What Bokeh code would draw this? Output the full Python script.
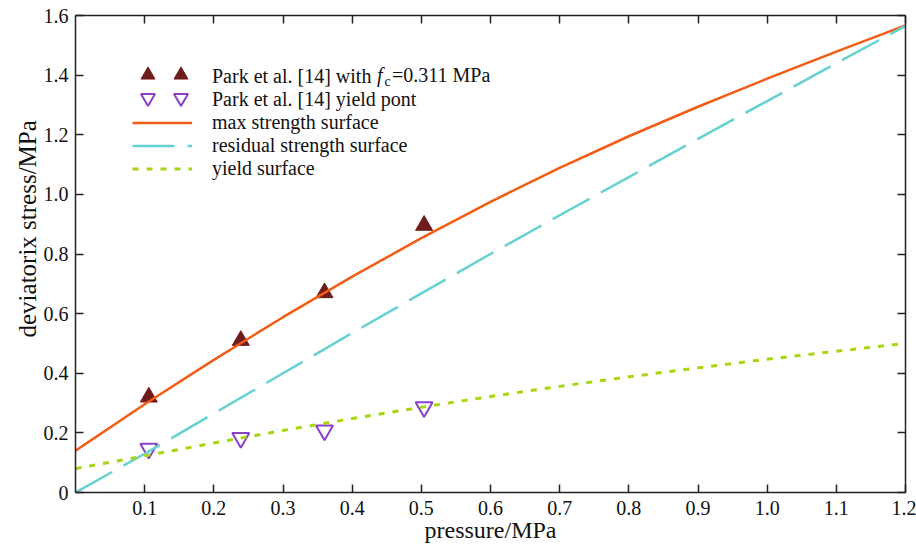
from bokeh.plotting import figure
from bokeh.models import (Range1d, LinearAxis, FixedTicker, Legend, LegendItem, Label, Title,
                          CustomJSTickFormatter)
from bokeh.embed import file_html
from bokeh.resources import INLINE

# ---- data ----
pressure_grid = [0.0, 0.1, 0.2, 0.3, 0.4, 0.5, 0.6, 0.7, 0.8, 0.9, 1.0, 1.1, 1.2]
max_strength = [0.14, 0.296, 0.445, 0.588, 0.724, 0.853, 0.975, 1.089, 1.195, 1.294, 1.388, 1.479, 1.567]
residual_strength = [0.0, 0.13, 0.265, 0.40, 0.535, 0.668, 0.80, 0.93, 1.058, 1.186, 1.313, 1.44, 1.565]
yield_surface = [0.08, 0.123, 0.166, 0.208, 0.248, 0.286, 0.322, 0.356, 0.388, 0.418, 0.447, 0.474, 0.50]

test_pressure = [0.106, 0.239, 0.360, 0.504]
test_max_stress = [0.32, 0.51, 0.67, 0.896]
test_yield_stress = [0.147, 0.183, 0.208, 0.286]

x_tick_values = [0.1, 0.2, 0.3, 0.4, 0.5, 0.6, 0.7, 0.8, 0.9, 1.0, 1.1, 1.2]
y_tick_values = [0, 0.2, 0.4, 0.6, 0.8, 1.0, 1.2, 1.4, 1.6]

legend_labels = ["Park et al. [14] with", "Park et al. [14] yield pont",
                 "max strength surface", "residual strength surface", "yield surface"]
x_title = "pressure/MPa"
y_title = "deviatorix stress/MPa"

FONT = "Liberation Serif"
AXC = "#222222"
TXT = "#111111"
C_MAX = "#f25c14"
C_RES = "#66d1d1"
C_YLD = "#a6d60f"
C_TRI = "#6e1c1c"
C_INV = "#8a3fc9"

p = figure(width=916, height=545, output_backend="svg", toolbar_location=None,
           x_range=Range1d(0, 1.2), y_range=Range1d(0, 1.6),
           min_border_left=75, min_border_right=11, min_border_top=15, min_border_bottom=53,
           background_fill_color="white", border_fill_color="white")
p.grid.visible = False
p.outline_line_color = None

bx = p.below[0]
ly = p.left[0]
top_axis = LinearAxis()
right_axis = LinearAxis()
p.add_layout(top_axis, "above")
p.add_layout(right_axis, "right")

for ax in [bx, ly, top_axis, right_axis]:
    ax.major_tick_in = 8
    ax.major_tick_out = 0
    ax.minor_tick_line_color = None
    ax.axis_line_width = 1.5
    ax.axis_line_color = AXC
    ax.major_tick_line_width = 1.5
    ax.major_tick_line_color = AXC
    ax.major_label_text_font = FONT
    ax.major_label_text_color = TXT

for ax in [bx, top_axis]:
    ax.ticker = FixedTicker(ticks=x_tick_values)
for ax in [ly, right_axis]:
    ax.ticker = FixedTicker(ticks=y_tick_values)

bx.formatter = CustomJSTickFormatter(code="return tick.toFixed(1);")
bx.major_label_text_font_size = "20px"
bx.major_label_standoff = 8
bx.axis_label = x_title
bx.axis_label_text_font = FONT
bx.axis_label_text_font_style = "normal"
bx.axis_label_text_font_size = "24px"
bx.axis_label_text_color = TXT
bx.axis_label_text_line_height = 0.5
bx.axis_label_standoff = -1

ly.formatter = CustomJSTickFormatter(code="return Math.abs(tick) < 1e-9 ? '0' : tick.toFixed(1);")
ly.major_label_text_font_size = "20px"
ly.major_label_standoff = 7

for ax in [top_axis, right_axis]:
    ax.formatter = CustomJSTickFormatter(code="return '';")
    ax.major_label_text_font_size = "0px"
    ax.major_label_standoff = 0

p.add_layout(Title(text=y_title, align="left", offset=155, standoff=0,
                   text_font=FONT, text_font_style="normal", text_font_size="25px",
                   text_color=TXT), "left")

# markers first, lines drawn over them
r_tri = p.scatter(test_pressure, test_max_stress, marker="triangle", size=17,
                  fill_color=C_TRI, line_color=C_TRI)
r_inv = p.scatter(test_pressure, test_yield_stress, marker="inverted_triangle", size=17,
                  fill_color=None, line_color=C_INV, line_width=2)
r_max = p.line(pressure_grid, max_strength, line_color=C_MAX, line_width=2.5)
r_res = p.line(pressure_grid, residual_strength, line_color=C_RES, line_width=2.5,
               line_dash="42 13")
r_yld = p.line(pressure_grid, yield_surface, line_color=C_YLD, line_width=3,
               line_dash="6 8")
# invisible stand-in so the text legend leaves the marker rows blank
r_blank = p.line([], [], line_alpha=0)

legend = Legend(items=[LegendItem(label=legend_labels[0], renderers=[r_blank]),
                       LegendItem(label=legend_labels[1], renderers=[r_blank]),
                       LegendItem(label=legend_labels[2], renderers=[r_max]),
                       LegendItem(label=legend_labels[3], renderers=[r_res]),
                       LegendItem(label=legend_labels[4], renderers=[r_yld])],
                location=(57, 312), padding=0, margin=0, spacing=0,
                glyph_width=60, glyph_height=23, label_height=23, label_standoff=20,
                label_text_font=FONT, label_text_font_size="20px",
                label_text_color=TXT,
                border_line_color=None, background_fill_alpha=0)
p.add_layout(legend)

# two larger markers per marker row of the legend
for rend, row_y in [(r_tri, 400), (r_inv, 377)]:
    for col_x in [55, 88]:
        p.add_layout(Legend(items=[LegendItem(label=" ", renderers=[rend])],
                            location=(col_x, row_y), padding=0, margin=0, spacing=0,
                            glyph_width=35, glyph_height=35, label_height=35,
                            label_width=0, label_standoff=0,
                            label_text_font_size="1px",
                            border_line_color=None, background_fill_alpha=0))

# rich part of first legend label
p.add_layout(Label(x=301.5, y=418, x_units="screen", y_units="screen", text="f",
                   text_font=FONT, text_font_style="italic", text_font_size="20px",
                   text_baseline="middle", text_color=TXT))
p.add_layout(Label(x=309, y=411, x_units="screen", y_units="screen", text="c",
                   text_font=FONT, text_font_size="14px",
                   text_baseline="middle", text_color=TXT))
p.add_layout(Label(x=316.5, y=418, x_units="screen", y_units="screen", text="=0.311 MPa",
                   text_font=FONT, text_font_size="20px",
                   text_baseline="middle", text_color=TXT))

open("out.html", "w").write(file_html(p, INLINE))
